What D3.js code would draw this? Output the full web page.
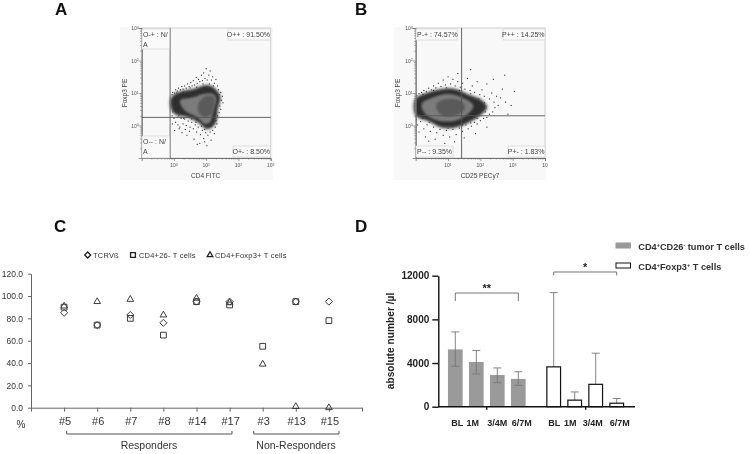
<!DOCTYPE html>
<html><head><meta charset="utf-8">
<script src="https://cdn.jsdelivr.net/npm/d3@7"></script>
<style>html,body{margin:0;background:#fff}svg{display:block;filter:blur(.3px)}text{font-family:"Liberation Sans",Arial,sans-serif}</style>
</head><body><svg id="c" width="750" height="454"></svg>
<script>
// ---- Panel C data
const patients=["#5","#6","#7","#8","#14","#17","#3","#13","#15"];
const tcrvb=[85,74,83,76,95,95,null,95,95];
const cd26neg=[90,74,80,65,95,92,55,95,78];
const foxp3=[91,95,97,83,98,94,39,1,0];
const pctTicks=[0,20,40,60,80,100,120];
// ---- Panel D data
const timepoints=["BL","1M","3/4M","6/7M"];
const tumorMean=[5250,4100,2900,2550];
const tumorHigh=[6850,5150,3550,3200];
const tumorLow=[3700,3000,2200,1950];
const tregMean=[3650,600,2050,320];
const tregHigh=[10450,1350,4900,750];
const absTicks=[0,4000,8000,12000];
// ---- Flow plot data (log10 units)
const aOuter=[[-.07,.87],[.19,1.03],[.6,1.11],[1.02,1.23],[1.27,1.13],[1.43,.87],[1.35,.51],[1.27,.05],[1.02,-.1],[.76,.1],[.45,.26],[.03,.36],[-.09,.56]];
const aMid=[[.19,.77],[.6,.87],[.91,.97],[1.22,.97],[1.31,.82],[1.22,.46],[1.12,.1],[.96,.05],[.71,.26],[.34,.46]];
const aInner=[[.76,.67],[.96,.9],[1.22,.9],[1.27,.77],[1.17,.36],[.96,.26],[.76,.41]];
const aStray=[[-.06,.95],[-.04,1.02],[.02,1],[.05,1.1],[.1,1.06],[.14,1.15],[.2,1.1],[.24,1.2],[.28,1.12],[.33,1.22],[.38,1.15],[.42,1.28],[.47,1.2],[.52,1.32],[.56,1.22],[.6,1.38],[.64,1.25],[.69,1.48],[.72,1.3],[.76,1.42],[.8,1.35],[.85,1.55],[.88,1.38],[.92,1.62],[.96,1.45],[1,1.75],[1.03,1.4],[1.08,1.55],[1.12,1.68],[1.16,1.4],[1.2,1.5],[1.25,1.3],[1.3,1.42],[1.35,1.22],[1.38,1.1],[1.45,1.02],[1.5,.9],[1.47,.78],[1.52,.7],[1.42,.6],[1.45,.5],[1.4,.4],[1.35,.3],[1.3,.15],[1.33,.05],[1.28,-.05],[1.2,-.15],[1.25,-.25],[1.12,-.2],[1.05,-.3],[.98,-.22],[.92,-.4],[.88,-.15],[.82,-.28],[.75,-.05],[.7,-.2],[.66,.02],[.6,-.1],[.55,.1],[.5,-.05],[.44,.14],[.38,0],[.33,.2],[.28,.05],[.22,.22],[.16,-.1],[.1,.25],[.05,.1],[0,.22],[-.05,.05],[.02,-.15],[-.06,.3],[.12,.02],[.25,-.22],[.4,-.3],[.62,-.42],[.8,-.55],[1.02,-.62],[.95,-.5],[.72,-.58],[1.15,-.45],[.35,-.12],[.18,-.05],[.48,-.18],[.3,1.02],[.5,1.16],[.7,1.18],[.9,1.28],[1.1,1.28],[1.22,1.22],[1.4,.95],[.15,.3],[.3,.22],[.55,.2],[.68,.1],[.85,-.02],[.95,-.12],[1.15,-.02],[1.3,.35],[-.04,.42],[.08,1.0]];
const bOuter=[[0,.82],[.29,.97],[.8,1.11],[1.22,1.11],[1.63,.94],[2.04,.77],[2.2,.56],[2.04,.36],[1.73,.15],[1.22,-.05],[.8,-.05],[.39,.15],[.01,.31]];
const bMid=[[.19,.67],[.55,.87],[1.01,.97],[1.42,.87],[1.78,.62],[1.63,.36],[1.22,.15],[.7,.15],[.29,.36]];
const bInner=[[.65,.67],[1.01,.82],[1.37,.77],[1.53,.56],[1.37,.36],[.96,.28],[.7,.41]];
const bStray=[[.03,.92],[.1,.98],[.18,1.02],[.25,1.08],[.33,1.04],[.4,1.15],[.48,1.1],[.55,1.22],[.62,1.16],[.7,1.3],[.78,1.2],[.85,1.4],[.92,1.25],[1,1.5],[1.08,1.28],[1.15,1.42],[1.22,1.22],[1.3,1.35],[1.38,1.18],[1.45,1.3],[1.52,1.12],[1.6,1.45],[1.68,1.08],[1.75,1.22],[1.82,1.02],[1.9,1.35],[1.98,.95],[2.05,1.1],[2.12,.9],[2.2,1.28],[2.28,.82],[2.35,1],[2.42,.72],[2.5,.9],[2.45,.55],[2.55,.62],[2.38,.42],[2.28,.35],[2.2,.25],[2.1,.22],[2,.15],[1.9,.05],[1.82,.1],[1.72,-.02],[1.62,-.1],[1.55,.02],[1.45,-.18],[1.35,-.08],[1.25,-.28],[1.15,-.12],[1.05,-.35],[.95,-.15],[.85,-.3],[.75,-.12],[.65,-.22],[.55,-.05],[.45,-.18],[.35,.02],[.25,-.1],[.15,.12],[.05,.02],[.02,.18],[.1,-.2],[.3,-.35],[.6,-.42],[.9,-.55],[1.2,-.5],[1.5,-.38],[1.85,-.25],[2.2,-.05],[2.62,.85],[2.78,.72],[2.95,.62],[3.05,1.05],[2.68,1.12],[2.85,.35],[2.4,1.42],[1.7,1.72],[1.3,1.6],[2.75,1.55],[.4,-.48],[1.1,-.68],[.72,.08],[.42,.1],[.22,.22],[1,-.08],[1.45,.02],[1.7,.08],[.55,1.08],[.95,1.16],[1.35,1.08],[1.7,.98],[1.95,.82],[2.12,.7],[2.15,.42],[1.9,.22],[1.15,-.02],[.22,.96]];
const gatesA=[["O-+ : N/","A",142,29,27.5,20,"s"],["O++ : 91.50%",null,228,29,42.5,11,"e"],["O-- : N/","A",142,136,27.5,22,"s"],["O+- : 8.50%",null,233,146,37.5,11,"e"]];
const gatesB=[["P-+ : 74.57%",null,416,29,41,11,"s"],["P++ : 14.25%",null,503,29,42,11,"e"],["P-- : 9.35%",null,416,146,37,11,"s"],["P+- : 1.83%",null,508,146,37,11,"e"]];
const minorFractions=[2,3,4,5,6,7,8,9];

const svg=d3.select("#c");
const defs=svg.append("defs");
defs.append("filter").attr("id","soft").append("feGaussianBlur").attr("stdDeviation",.4);
const wide=defs.append("filter").attr("id","halo").attr("x","-20%").attr("y","-20%").attr("width","140%").attr("height","140%");
wide.append("feGaussianBlur").attr("stdDeviation",1.5);
const core=defs.append("filter").attr("id","core");
core.append("feGaussianBlur").attr("stdDeviation",1.2);
function letter(t,x,y){svg.append("text").attr("x",x).attr("y",y).attr("font-size",17).attr("font-weight","bold").attr("fill","#111").text(t);}
letter("A",55,15);letter("B",355,15);letter("C",54,232);letter("D",355,232);

function flow(o){
  const g=svg.append("g");
  g.append("rect").attr("x",o.bg[0]).attr("y",o.bg[1]).attr("width",o.bg[2]).attr("height",o.bg[3]).attr("fill","#f8f8f8");
  const x=d3.scaleLinear().domain(o.xd).range(o.xr), y=d3.scaleLinear().domain([-1,3]).range([158,28]);
  const cloud=g.append("g");
  cloud.append("g").attr("filter","url(#soft)").selectAll("rect").data(o.stray).join("rect").attr("x",d=>x(d[0])-.5).attr("y",d=>y(d[1])-.5).attr("width",1.1).attr("height",1.1).attr("fill","#333");
  const ln=d3.line().x(d=>x(d[0])).y(d=>y(d[1])).curve(d3.curveCatmullRomClosed);
  cloud.append("path").attr("d",ln(o.outer)).attr("fill","#2e2e2e").attr("stroke","#2e2e2e").attr("stroke-width",1).attr("filter","url(#halo)");
  cloud.append("path").attr("d",ln(o.mid)).attr("fill","#7c7c7c").attr("filter","url(#core)");
  cloud.append("path").attr("d",ln(o.inner)).attr("fill","#5a5a5a").attr("filter","url(#core)");
  // frame and gates
  const c="#555";
  g.append("path").attr("d",`M${x.range()[0]},${y(3)}H${x.range()[1]}V${y(-1)}H${x.range()[0]}Z`).attr("fill","none").attr("stroke","#bbb").attr("stroke-width",.6);
  g.append("line").attr("x1",x(o.gx)).attr("x2",x(o.gx)).attr("y1",y(3)).attr("y2",y(-1)).attr("stroke",c).attr("stroke-width",.9);
  g.append("line").attr("x1",x.range()[0]).attr("x2",x.range()[1]).attr("y1",y(o.gy)).attr("y2",y(o.gy)).attr("stroke",c).attr("stroke-width",.9);
  // axes, with minor ticks inside each decade
  const minorX=o.xd[0]<o.xt[0]?d3.range(o.xd[0],o.xd[1]):d3.range(o.xd[0],o.xd[1]);
  const minors=(starts)=>starts.flatMap(s=>minorFractions.map(f=>s+Math.log10(f)));
  const ax=g.append("g").attr("transform",`translate(0,${y(-1)})`).call(d3.axisBottom(x).tickValues(o.xt).tickSize(3).tickFormat(""));
  const ay=g.append("g").attr("transform",`translate(${x.range()[0]},0)`).call(d3.axisLeft(y).tickValues([0,1,2,3]).tickSize(3).tickFormat(""));
  const mx=g.append("g").attr("transform",`translate(0,${y(-1)})`).call(d3.axisBottom(x).tickValues(minors(minorX)).tickSize(1.5).tickSizeOuter(0).tickFormat(""));
  const my=g.append("g").attr("transform",`translate(${x.range()[0]},0)`).call(d3.axisLeft(y).tickValues(minors([-1,0,1,2])).tickSize(1.5).tickSizeOuter(0).tickFormat(""));
  [ax,ay,mx,my].forEach(a=>{a.select(".domain").attr("stroke","#666").attr("stroke-width",.7);a.selectAll("line").attr("stroke","#666").attr("stroke-width",.6);});
  const lab=(sel,tx,ty,anc,exp)=>{const t=sel.append("text").attr("x",tx).attr("y",ty).attr("text-anchor",anc).attr("font-size",5).attr("fill","#555").text("10");
    if(exp!==null)t.append("tspan").attr("dy",-1.5).attr("font-size",3.5).text(exp);};
  o.xt.forEach((v,i)=>lab(g,x(v),167,"middle",o.xe[i]));
  [0,1,2,3].forEach(v=>lab(g,x.range()[0]-3,y(v)+2,"end",v));
  // gate labels
  o.gates.forEach(r=>{
    g.append("rect").attr("x",r[2]).attr("y",r[3]).attr("width",r[4]).attr("height",r[5]).attr("fill","#fafafa").attr("stroke","#ccc").attr("stroke-width",.6);
    const tx=r[6]==="s"?r[2]+1:r[2]+r[4]-.5, anc=r[6]==="s"?"start":"end";
    g.append("text").attr("x",tx).attr("y",r[3]+8).attr("text-anchor",anc).attr("font-size",7).attr("fill","#444").text(r[0]);
    if(r[1])g.append("text").attr("x",tx).attr("y",r[3]+17.5).attr("font-size",7).attr("fill","#444").text(r[1]);
  });
  g.append("text").attr("x",o.xlab[1]).attr("y",178).attr("text-anchor","middle").attr("font-size",6.5).attr("fill","#444").text(o.xlab[0]);
  g.append("text").attr("transform",`translate(${o.ylx},93) rotate(-90)`).attr("text-anchor","middle").attr("font-size",6.5).attr("fill","#444").text("Foxp3 PE");
}
flow({bg:[120,27,153,153],xd:[-1,3],xr:[141.7,270.7],outer:aOuter,mid:aMid,inner:aInner,stray:aStray,gx:-.12,gy:.25,xt:[0,1,2,3],xe:[0,1,2,3],gates:gatesA,xlab:["CD4 FITC",205.7],ylx:127});
flow({bg:[394,27,152,153],xd:[0,4],xr:[415.7,545],outer:bOuter,mid:bMid,inner:bInner,stray:bStray,gx:1.42,gy:.3,xt:[1,2,3,4],xe:[1,2,3,null],gates:gatesB,xlab:["CD25 PECy7",480],ylx:400});

// ---- Panel C
const cx=d3.scaleLinear().domain([0,10]).range([31,362]);
const cy=d3.scaleLinear().domain([0,120]).range([407.7,273.7]);
const cg=svg.append("g");
const cxa=cg.append("g").attr("transform",`translate(0,${cy(0)})`).call(d3.axisBottom(cx).ticks(10).tickSize(4).tickSizeOuter(0).tickFormat(""));
const cya=cg.append("g").attr("transform",`translate(${cx(0)},0)`).call(d3.axisLeft(cy).tickValues(pctTicks).tickSize(3).tickSizeOuter(0).tickFormat(d3.format(".1f")));
[cxa,cya].forEach(a=>{a.select(".domain").attr("stroke","#666");a.selectAll("line").attr("stroke","#666");});
cya.selectAll("text").attr("font-size",8.5).attr("fill","#333").attr("x",-8).attr("font-family","Liberation Sans");
patients.forEach((p,i)=>cg.append("text").attr("x",cx(i+1)+1).attr("y",424.5).attr("text-anchor","middle").attr("font-size",11).attr("fill","#333").text(p));
cg.append("text").attr("x",21).attr("y",428).attr("text-anchor","middle").attr("font-size",10).attr("fill","#333").text("%");
const sym={d:d3.symbol().type(d3.symbolDiamond2).size(32),s:d3.symbol().type(d3.symbolSquare2).size(42),t:d3.symbol().type(d3.symbolTriangle2).size(32)};
function series(vals,s){cg.append("g").selectAll("path").data(vals.map((v,i)=>[i,v]).filter(d=>d[1]!==null)).join("path")
  .attr("d",s).attr("transform",d=>`translate(${cx(d[0]+1)},${cy(d[1])})`).attr("fill","none").attr("stroke","#3c3c3c").attr("stroke-width",1);}
series(tcrvb,sym.d);series(cd26neg,sym.s);series(foxp3,sym.t);
const legC=[["TCRVß",sym.d,87.7,93],["CD4+26- T cells",sym.s,133,139],["CD4+Foxp3+ T cells",sym.t,210,215]];
legC.forEach(l=>{cg.append("path").attr("d",l[1]).attr("transform",`translate(${l[2]},255) scale(.85)`).attr("fill","none").attr("stroke","#222").attr("stroke-width",1.5);
  cg.append("text").attr("x",l[3]).attr("y",258).attr("font-size",7.5).attr("fill","#333").attr("letter-spacing",.2).text(l[0]);});
function brace(a,b,label,tx){const y=434;cg.append("path").attr("d",`M${a},${y-3}V${y}H${b}V${y-3}`).attr("fill","none").attr("stroke","#555").attr("stroke-width",1);
  cg.append("text").attr("x",tx).attr("y",449).attr("text-anchor","middle").attr("font-size",10.5).attr("fill","#333").text(label);}
brace(66.7,232,"Responders",149);brace(253.7,339,"Non-Responders",296);

// ---- Panel D
const dy=d3.scaleLinear().domain([0,12000]).range([406.7,275.7]);
const d1=d3.scaleBand().domain(timepoints).range([444.8,528.8]).paddingInner(.3).paddingOuter(.15);
const d2=d3.scaleBand().domain(timepoints).range([543.2,627.2]).paddingInner(.3).paddingOuter(.15);
const dg=svg.append("g");
const errC="#777";
function errbar(x,hi,lo,m){const cap=4;
  dg.append("path").attr("d",`M${x},${dy(m)}V${dy(hi)}M${x-cap},${dy(hi)}H${x+cap}`+(lo!==null?`M${x},${dy(m)}V${dy(lo)}M${x-cap},${dy(lo)}H${x+cap}`:"")).attr("fill","none").attr("stroke",errC).attr("stroke-width",.9);}
dg.selectAll(".bt").data(timepoints).join("rect").attr("class","bt").attr("x",d=>d1(d)).attr("width",d1.bandwidth()).attr("y",(d,i)=>dy(tumorMean[i])).attr("height",(d,i)=>dy(0)-dy(tumorMean[i])).attr("fill","#9a9a9a");
timepoints.forEach((t,i)=>errbar(d1(t)+d1.bandwidth()/2,tumorHigh[i],tumorLow[i],tumorMean[i]));
timepoints.forEach((t,i)=>errbar(d2(t)+d2.bandwidth()/2,tregHigh[i],null,tregMean[i]));
dg.selectAll(".bw").data(timepoints).join("rect").attr("class","bw").attr("x",d=>d2(d)+.5).attr("width",d2.bandwidth()-1).attr("y",(d,i)=>dy(tregMean[i])).attr("height",(d,i)=>dy(0)-dy(tregMean[i])).attr("fill","#fff").attr("stroke","#111").attr("stroke-width",1.2);
const dya=dg.append("g").attr("transform","translate(438.3,0)").call(d3.axisLeft(dy).tickValues(absTicks).tickSize(6).tickSizeOuter(0).tickFormat(d3.format("d")));
dya.select(".domain").attr("stroke","#111").attr("stroke-width",1.4);dya.selectAll("line").attr("stroke","#111").attr("stroke-width",1.4);
dya.selectAll("text").attr("font-size",10).attr("font-weight","bold").attr("fill","#222").attr("font-family","Liberation Sans");
dg.append("path").attr("d",`M438,${dy(0)}H635M486.7,${dy(0)}v3M585.7,${dy(0)}v3`).attr("stroke","#111").attr("stroke-width",1.4).attr("fill","none");
dg.append("text").attr("transform","translate(394,341) rotate(-90)").attr("text-anchor","middle").attr("font-size",10.2).attr("font-weight","bold").attr("fill","#222").text("absolute number /µl");
const labOff1=[2,-3.5,0,3.5], labOff2=[.5,-4.5,-3,3];
timepoints.forEach((t,i)=>{
  [[d1,labOff1],[d2,labOff2]].forEach(([sc,off])=>dg.append("text").attr("x",sc(t)+sc.bandwidth()/2+off[i]).attr("y",425.5).attr("text-anchor","middle").attr("font-size",9).attr("font-weight","bold").attr("fill","#222").text(t));
});
function sig(sc,top,bot,label,ty){const a=sc(timepoints[0])+sc.bandwidth()/2,b=sc(timepoints[3])+sc.bandwidth()/2;
  dg.append("path").attr("d",`M${a},${dy(bot)}V${dy(top)}H${b}V${dy(bot)}`).attr("fill","none").attr("stroke","#666").attr("stroke-width",.9);
  dg.append("text").attr("x",(a+b)/2).attr("y",ty).attr("text-anchor","middle").attr("font-size",11).attr("font-weight","bold").attr("fill","#222").text(label);}
sig(d1,10415,9680,"**",292);
sig(d2,12340,12030,"*",271);
function legD(y,fill,stroke,a,b,c,d){
  dg.append("rect").attr("x",616).attr("y",y).attr("width",14.5).attr("height",5).attr("fill",fill).attr("stroke",stroke).attr("stroke-width",1);
  const t=dg.append("text").attr("x",638.3).attr("y",y+6.5).attr("font-size",9.2).attr("font-weight","bold").attr("fill","#333");
  t.append("tspan").text(a);t.append("tspan").attr("dy",-3).attr("font-size",5.5).text("+");
  t.append("tspan").attr("dy",3).text(b);t.append("tspan").attr("dy",-3).attr("font-size",5.5).text(c);
  t.append("tspan").attr("dy",3).text(d);
}
legD(243,"#9a9a9a","#9a9a9a","CD4","CD26","-"," tumor T cells");
legD(263,"#fff","#111","CD4","Foxp3","+"," T cells");
</script></body></html>
